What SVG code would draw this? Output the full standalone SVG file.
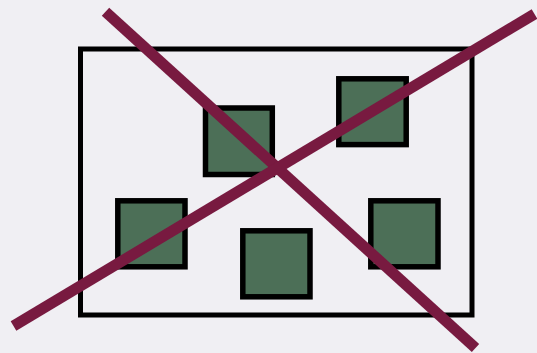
<svg xmlns="http://www.w3.org/2000/svg" width="537" height="353" viewBox="0 0 537 353">
  <style>
    .frame { fill: none; stroke: #000; stroke-width: 5; }
    .box { fill: #4c6f57; stroke: #000; stroke-width: 5.5; }
    .cross { stroke: #781a40; stroke-width: 11; stroke-linecap: butt; fill: none; }
  </style>
  <rect x="0" y="0" width="537" height="353" fill="#f0eff3"/>
  <g id="frame">
    <rect class="frame" x="80.5" y="49" width="391.5" height="266"/>
  </g>
  <g id="box-center">
    <rect class="box" x="205.5" y="108" width="66.8" height="66.5"/>
  </g>
  <g id="box-top-right">
    <rect class="box" x="338.8" y="78.8" width="67.4" height="65.8"/>
  </g>
  <g id="box-left">
    <rect class="box" x="117.8" y="200.8" width="67.2" height="66"/>
  </g>
  <g id="box-bottom">
    <rect class="box" x="242.8" y="230.8" width="67.2" height="66"/>
  </g>
  <g id="box-right">
    <rect class="box" x="370.8" y="200.8" width="67.2" height="66"/>
  </g>
  <g id="connectors">
    <line class="cross" x1="105.5" y1="11.7" x2="475.5" y2="348"/>
    <line class="cross" x1="13.5" y1="326" x2="534.5" y2="14"/>
  </g>
</svg>
